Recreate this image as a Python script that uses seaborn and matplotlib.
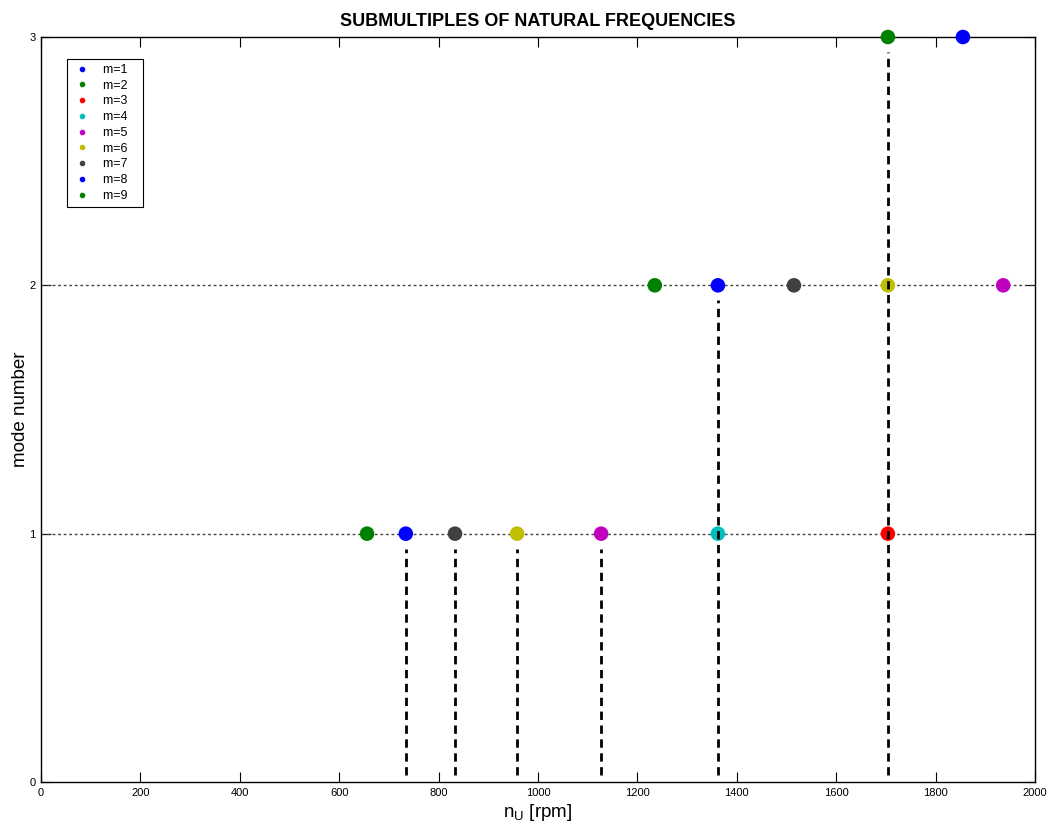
import numpy as np
import pandas as pd
import matplotlib
matplotlib.use("Agg")
import matplotlib.pyplot as plt
from matplotlib.lines import Line2D
import seaborn as sns

# ---- data ----
m_levels = [1, 2, 3, 4, 5, 6, 7, 8, 9]
m_colors = ["#0000ff", "#008000", "#ff0000", "#00bfbf", "#bf00bf",
            "#bfbf00", "#404040", "#0000ff", "#008000"]

mode1_m = [3, 4, 5, 6, 7, 8, 9]
mode1_rpm = [1704, 1362, 1127, 958, 833, 734, 656]
mode2_m = [5, 6, 7, 8, 9]
mode2_rpm = [1936, 1704, 1515, 1362, 1235]
mode3_m = [8, 9]
mode3_rpm = [1855, 1704]

crit_rpm = [734, 833, 958, 1127, 1362, 1704]
crit_mode = [1, 1, 1, 1, 2, 3]

x_ticks = [0, 200, 400, 600, 800, 1000, 1200, 1400, 1600, 1800, 2000]
y_ticks = [0, 1, 2, 3]

df = pd.DataFrame({
    "rpm": mode1_rpm + mode2_rpm + mode3_rpm,
    "mode": [1] * len(mode1_rpm) + [2] * len(mode2_rpm) + [3] * len(mode3_rpm),
    "m": mode1_m + mode2_m + mode3_m,
})

sns.set_style("white")
plt.rcParams["font.family"] = ["Liberation Sans", "DejaVu Sans"]
plt.rcParams["text.color"] = "black"
plt.rcParams["axes.labelcolor"] = "black"

fig = plt.figure(figsize=(10.55, 8.33), dpi=100)
ax = fig.add_axes([41 / 1055, 1 - 782 / 833, 994 / 1055, 745 / 833])

# horizontal dotted grid
for yv in y_ticks[1:3]:
    ax.axhline(yv, color="#444444", linestyle=(0, (2, 2)), linewidth=1.0, zorder=1)

palette = {m: c for m, c in zip(m_levels, m_colors)}
sns.scatterplot(data=df, x="rpm", y="mode", hue="m", palette=palette,
                s=110, edgecolor="none", legend=False, ax=ax, zorder=3,
                clip_on=False)

# vertical dashed lines at critical speeds
for xv, top in zip(crit_rpm, crit_mode):
    ax.plot([xv, xv], [0.03, top - 0.06], color="black", linestyle=(0, (3, 2)),
            linewidth=2.0, zorder=4)

ax.set_xlim(0, 2000)
ax.set_ylim(0, 3)
ax.set_xticks(x_ticks)
ax.set_yticks(y_ticks)
ax.tick_params(direction="in", length=7, width=0.8, top=True, right=True,
               bottom=True, left=True, labelsize=8, colors="black", pad=4)
for sp in ax.spines.values():
    sp.set_visible(True)
    sp.set_color("black")
    sp.set_linewidth(1.0)
    sp.set_zorder(2)

ax.set_title("SUBMULTIPLES OF NATURAL FREQUENCIES", fontsize=13, fontweight="bold",
             pad=8, color="black")
ax.set_xlabel(r"n$_\mathregular{U}$ [rpm]", fontsize=13.5, labelpad=3)
ax.set_ylabel("mode number", fontsize=13.5, labelpad=0)

handles = [Line2D([0], [0], marker="o", linestyle="none", color=c,
                  markersize=3, label=f"m={m}   ") for m, c in zip(m_levels, m_colors)]
leg = ax.legend(handles=handles, loc="upper left", bbox_to_anchor=(0.026, 0.9705),
                borderaxespad=0, fontsize=9, frameon=True, fancybox=False,
                handletextpad=0.9, borderpad=0.4, labelspacing=0.3,
                handlelength=1.6)
leg.get_frame().set_edgecolor("black")
leg.get_frame().set_linewidth(0.8)
leg.get_frame().set_alpha(1)

fig.savefig("out.png", dpi=100)
